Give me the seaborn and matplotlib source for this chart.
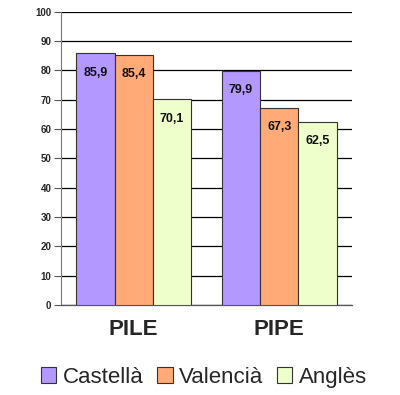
import pandas as pd
import seaborn as sns
import matplotlib.pyplot as plt

# Dades
proves = ["PILE", "PIPE"]
llengues = ["Castellà", "Valencià", "Anglès"]
castella = [85.9, 79.9]
valencia = [85.4, 67.3]
angles = [70.1, 62.5]
colors = ["#B399FF", "#FFAA77", "#EEFFCC"]
y_ticks = [0, 10, 20, 30, 40, 50, 60, 70, 80, 90, 100]

df = pd.DataFrame({
    "prova": proves * 3,
    "llengua": [llengues[0]] * 2 + [llengues[1]] * 2 + [llengues[2]] * 2,
    "valor": castella + valencia + angles,
})

sns.set_style("white")
plt.rcParams["font.family"] = ["Liberation Sans", "DejaVu Sans"]

fig = plt.figure(figsize=(4, 3.95), dpi=100)
ax = fig.add_axes([0.1525, 0.228, 0.7275, 0.742])

sns.barplot(data=df, x="prova", y="valor", hue="llengua", hue_order=llengues,
            palette=colors, width=0.79, gap=0, edgecolor="#333333", linewidth=0.8,
            errorbar=None, saturation=1, ax=ax, zorder=3)

# Etiquetes dins de les barres
for cont in ax.containers:
    for barra in cont:
        h = barra.get_height()
        ax.annotate(f"{h:.1f}".replace(".", ","),
                    (barra.get_x() + barra.get_width() / 2, h),
                    xytext=(0, -14), textcoords="offset points",
                    ha="center", va="center", fontsize=9, fontweight="bold",
                    color="#111111", zorder=4)

ax.set_ylim(0, 100)
ax.set_xlim(-0.5, 1.5)
ax.set_yticks(y_ticks)
ax.set_yticklabels([str(t) for t in y_ticks], fontsize=7, fontweight="bold")
ax.yaxis.grid(True, color="black", linewidth=0.9, zorder=0)
ax.set_axisbelow(True)

# Marques de l'eix x als límits de categoria
ax.set_xticks([-0.5, 0.5, 1.5])
ax.set_xticklabels(["", "", ""])
ax.set_xticks([0, 1], minor=True)
ax.set_xticklabels(proves, minor=True, fontsize=16, fontweight="bold")
ax.tick_params(axis="x", which="major", direction="out", length=7, width=0.8, color="#555555")
ax.tick_params(axis="x", which="minor", length=0, pad=10)
ax.tick_params(axis="y", direction="out", length=5, width=0.8, color="#555555", pad=2, left=True)

for s in ["top", "right"]:
    ax.spines[s].set_visible(False)
ax.spines["left"].set_color("#777777")
ax.spines["bottom"].set_color("#555555")
ax.spines["bottom"].set_linewidth(0.9)

ax.set_xlabel("")
ax.set_ylabel("")

handles, labels = ax.get_legend_handles_labels()
ax.get_legend().remove()
fig.legend(handles, labels, loc="center", bbox_to_anchor=(0.51, 0.045), ncol=3,
           frameon=False, fontsize=16, handlelength=0.7, handleheight=0.7,
           handletextpad=0.3, columnspacing=0.6)

fig.savefig("out.png", dpi=100)
